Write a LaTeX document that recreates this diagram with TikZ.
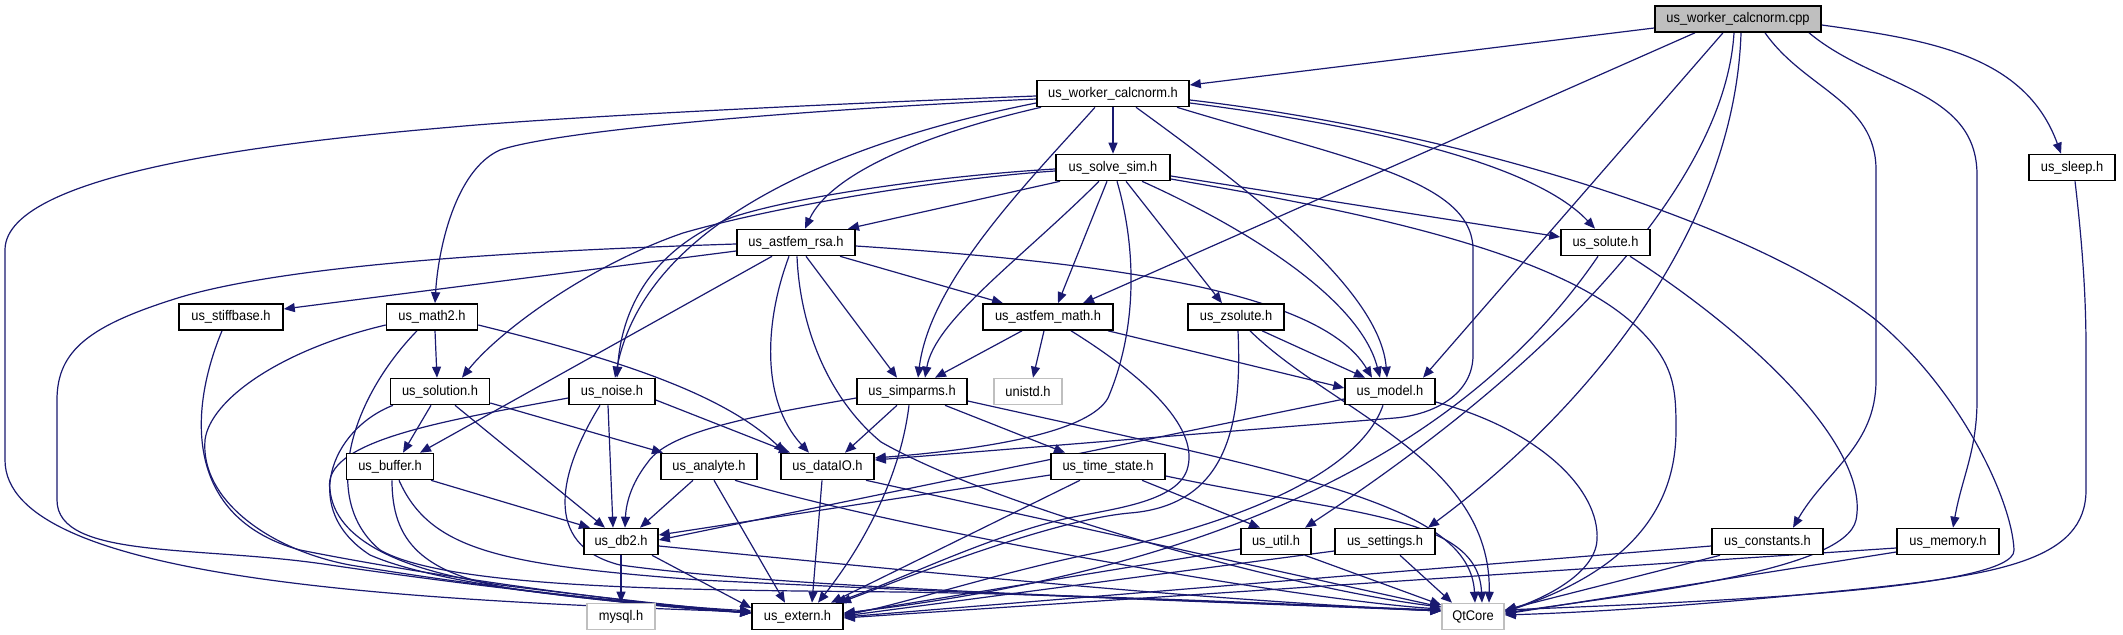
\documentclass[tikz,border=0pt]{standalone}
\usepackage{fontspec}
\setmainfont{Liberation Sans}[FakeStretch=0.92]
\usetikzlibrary{arrows.meta,backgrounds}
\definecolor{edgec}{HTML}{191970}
\definecolor{leafgray}{HTML}{BFBFBF}
\begin{document}
\begin{tikzpicture}[x=0.5pt,y=0.5pt,
  box/.style={draw=black, line width=0.8pt, fill=white, inner sep=0pt, minimum height=13pt, font=\fontsize{7}{8}\selectfont},
  leaf/.style={box, draw=leafgray},
  dep/.style={draw=edgec, line width=0.6pt, -{Triangle[length=5.5pt,width=4.5pt]}}]
\useasboundingbox (0,0) rectangle (2123,-635);
% nodes
\node[box, fill=leafgray, minimum width=83pt] (cpp) at (1738,-19) {us\_worker\_calcnorm.cpp};
\node[box, minimum width=76pt] (worker) at (1113,-93.5) {us\_worker\_calcnorm.h};
\node[box, minimum width=57pt] (solvesim) at (1113,-167.5) {us\_solve\_sim.h};
\node[box, minimum width=43pt] (sleep) at (2072,-167.5) {us\_sleep.h};
\node[box, minimum width=59pt] (rsa) at (796,-242.5) {us\_astfem\_rsa.h};
\node[box, minimum width=44.5pt] (solute) at (1605.5,-242.5) {us\_solute.h};
\node[box, minimum width=52pt] (stiff) at (231,-317) {us\_stiffbase.h};
\node[box, minimum width=45.5pt] (math2) at (432,-317) {us\_math2.h};
\node[box, minimum width=65pt] (amath) at (1048,-317) {us\_astfem\_math.h};
\node[box, minimum width=48pt] (zsolute) at (1236,-317) {us\_zsolute.h};
\node[box, minimum width=49.5pt] (solution) at (440,-391.5) {us\_solution.h};
\node[box, minimum width=43pt] (noise) at (612,-391.5) {us\_noise.h};
\node[box, minimum width=55pt] (simparms) at (912,-391.5) {us\_simparms.h};
\node[leaf, minimum width=34pt] (unistd) at (1028,-391.5) {unistd.h};
\node[box, minimum width=45pt] (model) at (1390,-391.5) {us\_model.h};
\node[box, minimum width=43.5pt] (buffer) at (390,-466.5) {us\_buffer.h};
\node[box, minimum width=48pt] (analyte) at (709,-466.5) {us\_analyte.h};
\node[box, minimum width=46.5pt] (dataio) at (827.5,-466.5) {us\_dataIO.h};
\node[box, minimum width=57pt] (tstate) at (1108,-466.5) {us\_time\_state.h};
\node[box, minimum width=37pt] (db2) at (621,-541.5) {us\_db2.h};
\node[box, minimum width=35pt] (util) at (1276,-541.5) {us\_util.h};
\node[box, minimum width=50pt] (settings) at (1385,-541.5) {us\_settings.h};
\node[box, minimum width=55.5pt] (constants) at (1767.5,-541.5) {us\_constants.h};
\node[box, minimum width=51pt] (memory) at (1948,-541.5) {us\_memory.h};
\node[leaf, minimum width=34pt] (mysql) at (621,-616.5) {mysql.h};
\node[box, minimum width=45.5pt] (extern) at (797.5,-616.5) {us\_extern.h};
\node[leaf, minimum width=31pt] (qtcore) at (1473,-616.5) {QtCore};
\begin{scope}[on background layer]
% cpp
\draw[dep] ([yshift=-4.5pt]cpp.west) -- ([yshift=4.25pt]worker.east);
\draw[dep] ([xshift=-21.5pt]cpp.south) -- ([xshift=17.5pt]amath.north);
\draw[dep] ([xshift=-7.5pt]cpp.south) -- ([xshift=16.5pt]model.north);
\draw[dep] ([xshift=-2pt]cpp.south) .. controls (1725,-180) and (1560,-360) .. ([xshift=14.5pt]util.north);
\draw[dep] ([xshift=1.5pt]cpp.south) .. controls (1735,-220) and (1600,-400) .. ([xshift=21.5pt]settings.north);
\draw[dep] ([xshift=13.5pt]cpp.south) to[out=-55,in=90] (1876,-170) -- (1876,-380) to[out=-90,in=60] ([xshift=12.75pt]constants.north);
\draw[dep] ([xshift=35.5pt]cpp.south) to[out=-40,in=90] (1977,-175) -- (1977,-400) to[out=-90,in=80] ([xshift=2.5pt]memory.north);
\draw[dep] ([yshift=-3pt]cpp.east) to[out=-8,in=110] ([xshift=-5.5pt]sleep.north);
% worker
\draw[dep] ([yshift=-1.25pt]worker.west) .. controls (800,-105) and (550,-118) .. (453,-127) .. controls (300,-140) and (5,-170) .. (5,-250) -- (5,-460) .. controls (5,-580) and (400,-600) .. ([yshift=2.25pt]extern.west);
\draw[dep] ([yshift=-2.75pt]worker.west) .. controls (800,-110) and (560,-130) .. (500,-150) .. controls (455,-170) and (438,-250) .. ([xshift=1.5pt]math2.north);
\draw[dep] ([yshift=-4.75pt]worker.west) .. controls (900,-130) and (650,-200) .. ([xshift=1.5pt]noise.north);
\draw[dep] ([xshift=-36pt]worker.south) .. controls (920,-135) and (830,-175) .. ([xshift=4.5pt]rsa.north);
\draw[dep] ([xshift=-9pt]worker.south) .. controls (1030,-180) and (930,-280) .. ([xshift=3pt]simparms.north);
\draw[dep] (worker.south) -- (solvesim.north);
\draw[dep] ([xshift=11.5pt]worker.south) .. controls (1250,-190) and (1380,-290) .. ([xshift=-1.5pt]model.north);
\draw[dep] ([xshift=32pt]worker.south) .. controls (1350,-160) and (1473,-180) .. (1473,-250) -- (1473,-355) to[out=-90,in=5] (1395,-418) -- ([yshift=3.25pt]dataio.east);
\draw[dep] ([yshift=-4.75pt]worker.east) .. controls (1400,-130) and (1540,-170) .. ([xshift=-5.25pt]solute.north);
\draw[dep] ([yshift=-3.25pt]worker.east) .. controls (1450,-130) and (1750,-220) .. (1876,-320) .. controls (1960,-390) and (2012,-500) .. (2014,-550) .. controls (2016,-590) and (1700,-602) .. ([yshift=3.25pt]qtcore.east);
% solve_sim
\draw[dep] ([xshift=-26.5pt]solvesim.south) -- ([xshift=26pt]rsa.north);
\draw[dep] ([yshift=-1.75pt]solvesim.west) .. controls (950,-178) and (780,-205) .. (683,-233) .. controls (590,-265) and (500,-330) .. ([xshift=11pt]solution.north);
\draw[dep] ([yshift=-0.75pt]solvesim.west) .. controls (950,-175) and (800,-195) .. (733,-217) .. controls (660,-245) and (622,-300) .. ([xshift=2.5pt]noise.north);
\draw[dep] ([xshift=-7pt]solvesim.south) .. controls (1020,-260) and (935,-320) .. ([xshift=6.5pt]simparms.north);
\draw[dep] ([xshift=-3pt]solvesim.south) -- ([xshift=5pt]amath.north);
\draw[dep] ([xshift=2pt]solvesim.south) .. controls (1137,-250) and (1137,-330) .. (1108,-398) .. controls (1090,-430) and (1000,-448) .. ([yshift=4.25pt]dataio.east);
\draw[dep] ([xshift=6.5pt]solvesim.south) -- ([xshift=-7pt]zsolute.north);
\draw[dep] ([xshift=14.5pt]solvesim.south) .. controls (1250,-230) and (1360,-300) .. ([xshift=-5pt]model.north);
\draw[dep] ([yshift=-4.25pt]solvesim.east) -- ([yshift=2.75pt]solute.west);
\draw[dep] ([yshift=-5.75pt]solvesim.east) .. controls (1350,-210) and (1560,-250) .. (1640,-330) .. controls (1675,-365) and (1676,-390) .. (1676,-430) .. controls (1676,-530) and (1600,-580) .. ([yshift=2.25pt]qtcore.east);
% astfem_rsa
\draw[dep] ([yshift=-4.25pt]rsa.west) -- ([yshift=4pt]stiff.east);
\draw[dep] ([yshift=-0.75pt]rsa.west) .. controls (550,-250) and (300,-262) .. (181,-297) .. controls (90,-325) and (57,-350) .. (57,-400) -- (57,-500) .. controls (57,-560) and (200,-545) .. (330,-565) .. controls (500,-590) and (650,-605) .. ([yshift=2.75pt]extern.west);
\draw[dep] ([xshift=-12pt]rsa.south) -- ([xshift=15pt]buffer.north);
\draw[dep] ([xshift=-3.5pt]rsa.south) .. controls (765,-320) and (760,-400) .. ([xshift=-9.25pt]dataio.north);
\draw[dep] ([xshift=0.5pt]rsa.south) .. controls (800,-330) and (830,-400) .. (881,-442) .. controls (1000,-510) and (1300,-590) .. ([yshift=4.75pt]qtcore.west);
\draw[dep] ([xshift=5pt]rsa.south) -- ([xshift=-7.5pt]simparms.north);
\draw[dep] ([xshift=22pt]rsa.south) -- ([xshift=-22.5pt]amath.north);
\draw[dep] ([yshift=-1.75pt]rsa.east) .. controls (1100,-262) and (1320,-290) .. ([xshift=-9pt]model.north);
% astfem_math
\draw[dep] ([xshift=-13pt]amath.south) -- ([xshift=11.5pt]simparms.north);
\draw[dep] ([xshift=-2pt]amath.south) -- ([xshift=2.5pt]unistd.north);
\draw[dep] ([xshift=11.5pt]amath.south) .. controls (1150,-380) and (1200,-430) .. (1187,-470) .. controls (1175,-505) and (1100,-510) .. (1060,-520) .. controls (980,-540) and (900,-580) .. ([xshift=18.75pt]extern.north);
\draw[dep] ([xshift=30pt]amath.south) -- ([yshift=1.75pt]model.west);
% zsolute
\draw[dep] ([xshift=13pt]zsolute.south) -- ([xshift=-12.5pt]model.north);
\draw[dep] ([xshift=7pt]zsolute.south) .. controls (1330,-410) and (1492,-460) .. ([xshift=8pt]qtcore.north);
\draw[dep] ([xshift=1pt]zsolute.south) .. controls (1242,-420) and (1230,-505) .. (1130,-513) .. controls (1050,-520) and (900,-580) .. ([xshift=21.25pt]extern.north);
% solute
\draw[dep] ([xshift=-3.75pt]solute.south) .. controls (1500,-400) and (1300,-560) .. ([yshift=1.75pt]extern.east);
\draw[dep] ([xshift=12.25pt]solute.south) .. controls (1760,-340) and (1870,-450) .. (1856,-520) .. controls (1845,-570) and (1650,-592) .. ([yshift=1.75pt]qtcore.east);
% stiffbase, math2
\draw[dep] ([xshift=-4.5pt]stiff.south) .. controls (185,-420) and (190,-520) .. (300,-550) .. controls (450,-580) and (650,-605) .. ([yshift=1.75pt]extern.west);
\draw[dep] ([yshift=-4pt]math2.west) .. controls (280,-350) and (210,-400) .. (205,-440) .. controls (200,-500) and (270,-550) .. (350,-565) .. controls (500,-590) and (650,-605) .. ([yshift=1.75pt]extern.west);
\draw[dep] ([xshift=-7.5pt]math2.south) .. controls (350,-400) and (320,-500) .. (380,-550) .. controls (450,-590) and (700,-590) .. (900,-592) .. controls (1100,-595) and (1300,-605) .. ([yshift=3.25pt]qtcore.west);
\draw[dep] ([xshift=1.5pt]math2.south) -- ([xshift=-1.5pt]solution.north);
\draw[dep] ([yshift=-4pt]math2.east) .. controls (600,-355) and (720,-390) .. ([xshift=-21.25pt]dataio.north);
% solution
\draw[dep] ([xshift=-23.5pt]solution.south) .. controls (330,-430) and (300,-510) .. (370,-555) .. controls (450,-590) and (650,-605) .. ([yshift=1.75pt]extern.west);
\draw[dep] ([xshift=-4.5pt]solution.south) -- ([xshift=6.5pt]buffer.north);
\draw[dep] ([xshift=7.5pt]solution.south) -- ([xshift=-8pt]db2.north);
\draw[dep] ([yshift=-5.75pt]solution.east) -- ([xshift=-23pt]analyte.north);
% noise
\draw[dep] ([yshift=-3.25pt]noise.west) .. controls (450,-420) and (320,-440) .. (330,-490) .. controls (335,-540) and (400,-570) .. (500,-585) .. controls (620,-600) and (700,-608) .. ([yshift=1.75pt]extern.west);
\draw[dep] ([xshift=-6pt]noise.south) .. controls (560,-470) and (540,-545) .. (620,-565) .. controls (800,-590) and (1200,-600) .. ([yshift=2.75pt]qtcore.west);
\draw[dep] ([xshift=-2pt]noise.south) -- ([xshift=-4pt]db2.north);
\draw[dep] ([yshift=-4.25pt]noise.east) -- ([xshift=-18.75pt]dataio.north);
% buffer
\draw[dep] ([xshift=20.5pt]buffer.south) -- ([xshift=-15.5pt]db2.north);
\draw[dep] ([xshift=1pt]buffer.south) .. controls (392,-540) and (420,-575) .. (520,-590) .. controls (620,-603) and (700,-610) .. ([yshift=1.75pt]extern.west);
\draw[dep] ([xshift=4.5pt]buffer.south) .. controls (430,-550) and (500,-565) .. (700,-580) .. controls (1000,-595) and (1300,-605) .. ([yshift=2.75pt]qtcore.west);
% analyte
\draw[dep] ([xshift=-8pt]analyte.south) -- ([xshift=9.5pt]db2.north);
\draw[dep] ([xshift=2.5pt]analyte.south) -- ([xshift=-6.25pt]extern.north);
\draw[dep] ([xshift=13pt]analyte.south) .. controls (900,-530) and (1300,-600) .. ([yshift=3.75pt]qtcore.west);
% dataIO
\draw[dep] ([xshift=-2.75pt]dataio.south) -- ([xshift=7.25pt]extern.north);
\draw[dep] ([xshift=19.25pt]dataio.south) -- ([yshift=4.75pt]qtcore.west);
% simparms
\draw[dep] ([yshift=-3.25pt]simparms.west) .. controls (760,-415) and (670,-430) .. (648,-462) .. controls (630,-485) and (626,-505) .. ([xshift=2pt]db2.north);
\draw[dep] ([xshift=-7.5pt]simparms.south) -- ([xshift=8.75pt]dataio.north);
\draw[dep] ([xshift=-1.5pt]simparms.south) .. controls (900,-480) and (860,-550) .. ([xshift=10.25pt]extern.north);
\draw[dep] ([xshift=16.5pt]simparms.south) -- ([xshift=-21.5pt]tstate.north);
\draw[dep] ([yshift=-4.75pt]simparms.east) .. controls (1300,-475) and (1470,-505) .. ([xshift=1pt]qtcore.north);
% time_state
\draw[dep] ([yshift=-4.25pt]tstate.west) -- ([yshift=3.25pt]db2.east);
\draw[dep] ([xshift=-14pt]tstate.south) -- ([xshift=16.75pt]extern.north);
\draw[dep] ([xshift=17pt]tstate.south) -- ([xshift=-8pt]util.north);
\draw[dep] ([yshift=-4.75pt]tstate.east) .. controls (1350,-515) and (1478,-515) .. ([xshift=4.5pt]qtcore.north);
% model
\draw[dep] ([yshift=-3.75pt]model.west) -- ([yshift=0.75pt]db2.east);
\draw[dep] ([xshift=-3.5pt]model.south) .. controls (1360,-470) and (1250,-520) .. (1100,-552) .. controls (1000,-572) and (900,-605) .. ([yshift=0.75pt]extern.east);
\draw[dep] ([yshift=-5.25pt]model.east) .. controls (1540,-430) and (1600,-490) .. (1597,-540) .. controls (1595,-575) and (1540,-600) .. ([yshift=2.75pt]qtcore.east);
% db2
\draw[dep] (db2.south) -- (mysql.north);
\draw[dep] ([xshift=15.5pt]db2.south) -- ([yshift=4.25pt]extern.west);
\draw[dep] ([yshift=-2.25pt]db2.east) .. controls (900,-570) and (1200,-600) .. ([yshift=2.75pt]qtcore.west);
% util, settings, constants, memory, sleep
\draw[dep] ([yshift=-3.75pt]util.west) -- ([yshift=1.25pt]extern.east);
\draw[dep] ([xshift=14.5pt]util.south) -- ([yshift=5.75pt]qtcore.west);
\draw[dep] ([yshift=-4.75pt]settings.west) -- ([yshift=0.25pt]extern.east);
\draw[dep] ([xshift=7.5pt]settings.south) -- ([xshift=-10.5pt]qtcore.north);
\draw[dep] ([yshift=-2.25pt]constants.west) -- ([yshift=-0.25pt]extern.east);
\draw[dep] ([xshift=-23.75pt]constants.south) -- ([yshift=3.25pt]qtcore.east);
\draw[dep] ([yshift=-3.25pt]memory.west) -- ([yshift=-0.75pt]extern.east);
\draw[dep] ([yshift=-5.25pt]memory.west) -- ([yshift=1.25pt]qtcore.east);
\draw[dep] ([xshift=1.5pt]sleep.south) .. controls (2083,-250) and (2086,-300) .. (2086,-350) -- (2086,-490) .. controls (2086,-560) and (2000,-575) .. (1850,-590) .. controls (1700,-605) and (1600,-612) .. ([yshift=0.75pt]qtcore.east);
\end{scope}
\end{tikzpicture}
\end{document}
